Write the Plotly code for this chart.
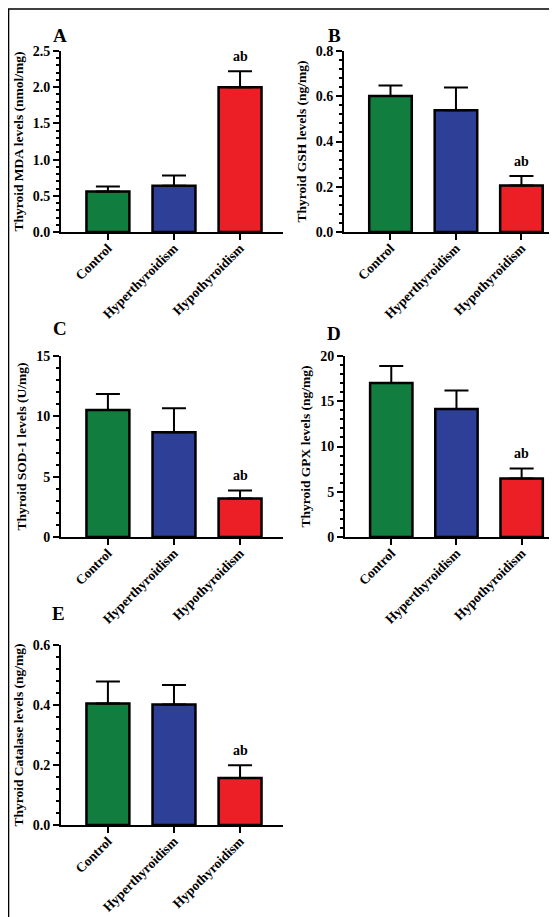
import plotly.graph_objects as go
from plotly.subplots import make_subplots

groups = ["Control", "Hyperthyroidism", "Hypothyroidism"]
bar_colors = ["#117d3f", "#2d3f97", "#ed1f26"]

# means and upper SEM
mda = [0.56, 0.64, 2.00]
mda_err = [0.07, 0.14, 0.22]
gsh = [0.601, 0.538, 0.206]
gsh_err = [0.047, 0.101, 0.042]
sod = [10.53, 8.68, 3.20]
sod_err = [1.33, 1.99, 0.66]
gpx = [17.02, 14.15, 6.47]
gpx_err = [1.88, 2.03, 1.10]
cat = [0.405, 0.402, 0.157]
cat_err = [0.073, 0.065, 0.042]

titles = ["Thyroid MDA levels (nmol/mg)", "Thyroid GSH levels (ng/mg)",
          "Thyroid SOD-1 levels (U/mg)", "Thyroid GPX levels (ng/mg)",
          "Thyroid Catalase levels (ng/mg)"]
letters = ["A", "B", "C", "D", "E"]
sig_label = "ab"

panels = [
    (mda, mda_err, [0, 2.5], 0.5, 0.1, ".1f"),
    (gsh, gsh_err, [0, 0.8], 0.2, 0.04, ".1f"),
    (sod, sod_err, [0, 15], 5, 1, "d"),
    (gpx, gpx_err, [0, 20], 5, 1, "d"),
    (cat, cat_err, [0, 0.6], 0.2, 0.04, ".1f"),
]

W, H = 557, 917
# pixel boxes of each plot area: (left, right, top, bottom)
boxes = [(53, 275, 43, 224), (336, 556, 43, 224),
         (53, 275, 348, 529), (337, 556, 348, 529),
         (53, 275, 637, 817)]
letter_pos = [(43, 15), (326, 15), (43, 321), (326, 325), (42, 618)]

fig = make_subplots(rows=3, cols=2, specs=[[{}, {}], [{}, {}], [{}, None]])
cells = [(1, 1), (1, 2), (2, 1), (2, 2), (3, 1)]

font = "Liberation Serif"

for i, (vals, errs, yr, dt, mdt, fmt) in enumerate(panels):
    r, c = cells[i]
    fig.add_trace(go.Bar(
        x=groups, y=vals, width=0.65,
        marker=dict(color=bar_colors, line=dict(color="black", width=2.5)),
        error_y=dict(type="data", symmetric=False, array=errs,
                     arrayminus=[0, 0, 0], color="black", thickness=2, width=12),
        showlegend=False), row=r, col=c)
    l, rt, t, b = boxes[i]
    n = i + 1
    xa = "xaxis" if n == 1 else "xaxis%d" % n
    ya = "yaxis" if n == 1 else "yaxis%d" % n
    fig.layout[xa].update(
        domain=[l / W, rt / W], range=[-0.71, 2.65], showline=True,
        linecolor="black", linewidth=2, ticks="outside", ticklen=6,
        tickwidth=2, tickcolor="black", tickangle=-45, automargin=False,
        ticklabelstandoff=-5,
        tickfont=dict(family=font, size=13.5, color="black", weight="bold"),
        showgrid=False, zeroline=False)
    fig.layout[ya].update(
        domain=[(H - b) / H, (H - t) / H], range=yr, dtick=dt, tick0=0,
        tickformat=fmt, showline=True, linecolor="black", linewidth=2,
        ticks="outside", ticklen=6, tickwidth=2, tickcolor="black",
        minor=dict(dtick=mdt, ticks="outside", ticklen=3, tickwidth=1.5,
                   tickcolor="black"),
        automargin=False, showgrid=False, zeroline=False,
        tickfont=dict(family=font, size=14, color="black", weight="bold"),
        title=dict(text=titles[i], standoff=6,
                   font=dict(family=font, size=13.5, color="black", weight="bold")))
    # significance label above the hypothyroid bar
    fig.add_annotation(x=groups[2], y=vals[2] + errs[2], xref="x%d" % n,
                       yref="y%d" % n, text=sig_label, showarrow=False,
                       yanchor="bottom", yshift=5,
                       font=dict(family=font, size=14, color="black", weight="bold"))
    lx, ly = letter_pos[i]
    fig.add_annotation(x=lx / W, y=1 - ly / H, xref="paper", yref="paper",
                       text=letters[i], showarrow=False,
                       font=dict(family=font, size=19, color="black", weight="bold"))

fig.add_shape(type="rect", xref="paper", yref="paper", x0=0.001, x1=0.999,
              y0=0.001, y1=0.999, line=dict(color="black", width=1.5))

fig.update_layout(width=W, height=H, margin=dict(l=0, r=0, t=0, b=0),
                  plot_bgcolor="white", paper_bgcolor="white",
                  template="none", bargap=0.35)

fig.write_html("out.html")
